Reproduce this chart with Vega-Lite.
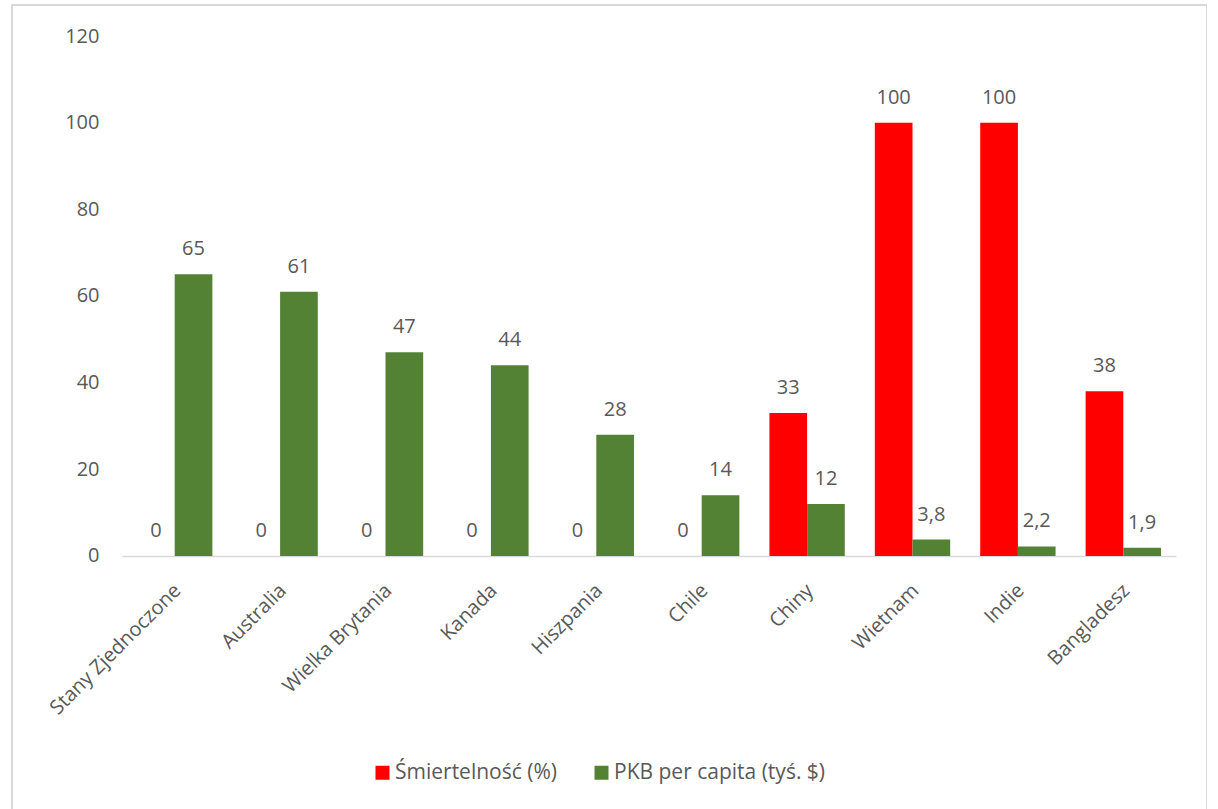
{
  "$schema": "https://vega.github.io/schema/vega-lite/v6.json",
  "width": 1195,
  "height": 810,
  "autosize": {"type": "none"},
  "padding": {"left": 12, "top": 5, "right": 0, "bottom": 0},
  "background": "white",
  "config": {
    "font": "Open Sans",
    "view": {"stroke": "#d9d9d9", "strokeWidth": 2},
    "locale": {"number": {"decimal": ",", "thousands": " ", "grouping": [3], "currency": ["", " zł"]}}
  },
  "data": {
    "values": [
      {"kraj": "Stany Zjednoczone", "seria": "Śmiertelność (%)", "wartosc": 0},
      {"kraj": "Stany Zjednoczone", "seria": "PKB per capita (tyś. $)", "wartosc": 65},
      {"kraj": "Australia", "seria": "Śmiertelność (%)", "wartosc": 0},
      {"kraj": "Australia", "seria": "PKB per capita (tyś. $)", "wartosc": 61},
      {"kraj": "Wielka Brytania", "seria": "Śmiertelność (%)", "wartosc": 0},
      {"kraj": "Wielka Brytania", "seria": "PKB per capita (tyś. $)", "wartosc": 47},
      {"kraj": "Kanada", "seria": "Śmiertelność (%)", "wartosc": 0},
      {"kraj": "Kanada", "seria": "PKB per capita (tyś. $)", "wartosc": 44},
      {"kraj": "Hiszpania", "seria": "Śmiertelność (%)", "wartosc": 0},
      {"kraj": "Hiszpania", "seria": "PKB per capita (tyś. $)", "wartosc": 28},
      {"kraj": "Chile", "seria": "Śmiertelność (%)", "wartosc": 0},
      {"kraj": "Chile", "seria": "PKB per capita (tyś. $)", "wartosc": 14},
      {"kraj": "Chiny", "seria": "Śmiertelność (%)", "wartosc": 33},
      {"kraj": "Chiny", "seria": "PKB per capita (tyś. $)", "wartosc": 12},
      {"kraj": "Wietnam", "seria": "Śmiertelność (%)", "wartosc": 100},
      {"kraj": "Wietnam", "seria": "PKB per capita (tyś. $)", "wartosc": 3.8},
      {"kraj": "Indie", "seria": "Śmiertelność (%)", "wartosc": 100},
      {"kraj": "Indie", "seria": "PKB per capita (tyś. $)", "wartosc": 2.2},
      {"kraj": "Bangladesz", "seria": "Śmiertelność (%)", "wartosc": 38},
      {"kraj": "Bangladesz", "seria": "PKB per capita (tyś. $)", "wartosc": 1.9}
    ]
  },
  "encoding": {
    "x": {
      "field": "kraj",
      "type": "nominal",
      "sort": null,
      "scale": {"range": [110, 1164], "paddingInner": 0.285, "paddingOuter": 0.1425},
      "axis": {
        "title": null,
        "orient": "bottom",
        "offset": -259,
        "domainColor": "#d9d9d9",
        "domainWidth": 1.5,
        "ticks": false,
        "labelAngle": -45,
        "labelPadding": 24,
        "labelOffset": -4,
        "labelFontSize": 20,
        "labelColor": "#595959",
        "labelFont": "Open Sans"
      }
    },
    "xOffset": {
      "field": "seria",
      "type": "nominal",
      "scale": {"domain": ["Śmiertelność (%)", "PKB per capita (tyś. $)"], "paddingInner": 0}
    },
    "y": {
      "field": "wartosc",
      "type": "quantitative",
      "scale": {"domain": [-59.77, 127.154], "nice": false, "zero": false},
      "axis": {
        "title": null,
        "orient": "left",
        "offset": -87,
        "values": [0, 20, 40, 60, 80, 100, 120],
        "domain": false,
        "ticks": false,
        "grid": false,
        "labelPadding": 0,
        "labelFontSize": 20,
        "labelColor": "#595959",
        "labelFont": "Open Sans"
      }
    }
  },
  "layer": [
    {
      "mark": {"type": "bar"},
      "encoding": {
        "color": {
          "field": "seria",
          "type": "nominal",
          "scale": {"domain": ["Śmiertelność (%)", "PKB per capita (tyś. $)"], "range": ["#ff0000", "#548235"]},
          "legend": {
            "title": null,
            "orient": "none",
            "legendX": 360,
            "legendY": 757,
            "direction": "horizontal",
            "symbolType": "square",
            "symbolSize": 196,
            "symbolStrokeWidth": 0,
            "labelFontSize": 21,
            "labelLimit": 500,
            "labelColor": "#595959",
            "labelFont": "Open Sans",
            "labelOffset": 2,
            "columnPadding": 34
          }
        }
      }
    },
    {
      "mark": {"type": "text", "baseline": "alphabetic", "dy": -19, "fontSize": 20, "color": "#595959", "font": "Open Sans"},
      "encoding": {
        "text": {"field": "wartosc", "type": "quantitative", "format": "~g"}
      }
    }
  ]
}
